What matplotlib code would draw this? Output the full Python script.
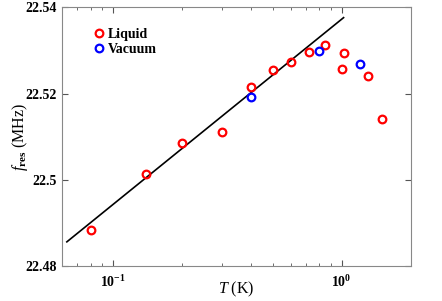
import numpy as np
import matplotlib.pyplot as plt
from matplotlib.ticker import LogLocator, FixedLocator, FormatStrFormatter, NullFormatter

plt.rcParams['font.family'] = 'Liberation Serif'
plt.rcParams['mathtext.fontset'] = 'custom'
plt.rcParams['mathtext.rm'] = 'Liberation Serif:bold'
plt.rcParams['mathtext.it'] = 'Liberation Serif:italic'
plt.rcParams['mathtext.bf'] = 'Liberation Serif:bold'

# liquid data
T_liquid = [0.08, 0.14, 0.2, 0.3, 0.4, 0.5, 0.6, 0.72, 0.85, 1.02, 1.0, 1.3, 1.5]
f_liquid = [22.4884, 22.5013, 22.5086, 22.511, 22.5214, 22.5255, 22.5272,
            22.5296, 22.5313, 22.5294, 22.5257, 22.5241, 22.514]

# vacuum data
T_vacuum = [0.4, 0.8, 1.2]
f_vacuum = [22.5193, 22.5299, 22.5269]

# fit line
T_fit = [0.063, 1.02]
f_fit = [22.4856, 22.5376]

y_ticks = [22.48, 22.5, 22.52, 22.54]

fig = plt.figure(figsize=(4.42, 3.01), dpi=100)
ax = fig.add_axes([62/442, 1 - 266/301, (410.5 - 62)/442, (266 - 7.3)/301])

ax.plot(T_fit, f_fit, color='black', lw=1.2)
ax.plot(T_liquid, f_liquid, 'o', mfc='none', mec='red', ms=5.5, mew=1.6, label='Liquid')
ax.plot(T_vacuum, f_vacuum, 'o', mfc='none', mec='blue', ms=5.5, mew=1.6, label='Vacuum')

ax.set_xscale('log')
ax.set_xlim(0.06, 2)
ax.set_ylim(22.48, 22.54)
ax.yaxis.set_major_locator(FixedLocator(y_ticks))
ax.yaxis.set_major_formatter(FormatStrFormatter('%g'))
ax.xaxis.set_major_locator(LogLocator(base=10))
ax.xaxis.set_minor_locator(LogLocator(base=10, subs=np.arange(2, 10)))
ax.xaxis.set_minor_formatter(NullFormatter())

ax.tick_params(which='both', direction='in', top=True, right=True, colors='#555555',
               labelcolor='black', labelsize=10)
ax.tick_params(which='major', length=4)
ax.tick_params(which='minor', length=2)
ax.tick_params(axis='x', pad=6)
for lab in ax.get_yticklabels() + ax.get_xticklabels():
    lab.set_fontweight('bold')
for s in ax.spines.values():
    s.set_color('#888888')

ax.set_xlabel(r'$T$ (K)', fontsize=11.5)
ax.xaxis.label.set_va('center')
ax.xaxis.set_label_coords(0.5, -0.092)
ax.set_ylabel(r'$f_{\rm res}$ (MHz)', fontsize=11.5)
ax.yaxis.label.set_va('center')
ax.yaxis.set_label_coords(-0.12, 0.5)

ax.legend(loc='upper left', bbox_to_anchor=(0.045, 0.97), frameon=False,
          prop={'weight': 'bold', 'size': 10}, handletextpad=0.1,
          labelspacing=0.15, handlelength=1.2)

fig.savefig('out.png', dpi=100)
